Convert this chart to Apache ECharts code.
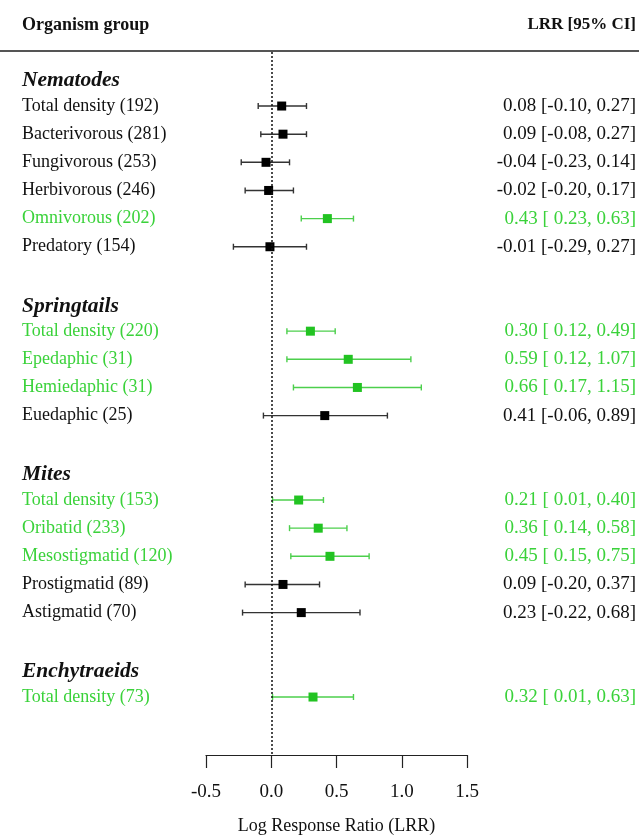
<!DOCTYPE html>
<html>
<head>
<meta charset="utf-8">
<script src="https://cdn.jsdelivr.net/npm/echarts@6/dist/echarts.min.js"></script>
<style>
  html, body { margin: 0; padding: 0; background: #fff; }
  #chart { width: 639px; height: 840px; }
</style>
</head>
<body>
<div id="chart"></div>
<script>
// Group headers and the row index at which each one sits
const groupNames = ['Nematodes', 'Springtails', 'Mites', 'Enchytraeids'];
const groupRows = [0, 8, 14, 21];

// Subgroup rows: name, sample size, row index, LRR estimate and 95% CI
const rowNames = [
  'Total density', 'Bacterivorous', 'Fungivorous', 'Herbivorous', 'Omnivorous', 'Predatory',
  'Total density', 'Epedaphic', 'Hemiedaphic', 'Euedaphic',
  'Total density', 'Oribatid', 'Mesostigmatid', 'Prostigmatid', 'Astigmatid',
  'Total density'
];
const rowN = [192, 281, 253, 246, 202, 154, 220, 31, 31, 25, 153, 233, 120, 89, 70, 73];
const rowIndex = [1, 2, 3, 4, 5, 6, 9, 10, 11, 12, 15, 16, 17, 18, 19, 22];
const lrr = [0.08, 0.09, -0.04, -0.02, 0.43, -0.01, 0.30, 0.59, 0.66, 0.41, 0.21, 0.36, 0.45, 0.09, 0.23, 0.32];
const ciLow = [-0.10, -0.08, -0.23, -0.20, 0.23, -0.29, 0.12, 0.12, 0.17, -0.06, 0.01, 0.14, 0.15, -0.20, -0.22, 0.01];
const ciHigh = [0.27, 0.27, 0.14, 0.17, 0.63, 0.27, 0.49, 1.07, 1.15, 0.89, 0.40, 0.58, 0.75, 0.37, 0.68, 0.63];

// Axis ticks
const xTicks = [-0.5, 0.0, 0.5, 1.0, 1.5];

const SERIF = '"Liberation Serif", "Times New Roman", serif';
const GREEN_TEXT = '#3ad23a';
const GREEN_MARK = '#22c322';
const GREEN_LINE = '#4ccf4c';

function fmt(v) { return v.toFixed(2); }
function fmtLow(v) { return (v >= 0 ? ' ' : '') + v.toFixed(2); }

const rowData = rowNames.map((name, i) => [lrr[i], rowIndex[i], ciLow[i], ciHigh[i], i]);
const groupData = groupNames.map((name, i) => [0, groupRows[i], i]);

const chart = echarts.init(document.getElementById('chart'), null, { renderer: 'canvas' });

chart.setOption({
  animation: false,
  backgroundColor: '#ffffff',
  grid: { left: 206, right: 172, top: 52, bottom: 85, containLabel: false },
  xAxis: {
    type: 'value',
    min: xTicks[0],
    max: xTicks[xTicks.length - 1],
    interval: 0.5,
    name: 'Log Response Ratio (LRR)',
    nameLocation: 'middle',
    nameGap: 62,
    nameTextStyle: { fontFamily: SERIF, fontSize: 18, color: '#111' },
    axisLine: { show: true, onZero: false, lineStyle: { color: '#222', width: 1.2 } },
    axisTick: { show: true, inside: false, length: 13, lineStyle: { color: '#222', width: 1.2 } },
    axisLabel: {
      margin: 28,
      fontFamily: SERIF,
      fontSize: 19,
      color: '#111',
      formatter: v => v.toFixed(1)
    },
    splitLine: { show: false }
  },
  yAxis: {
    type: 'value',
    inverse: true,
    min: -0.92,
    max: 24.06,
    show: false
  },
  graphic: [
    {
      type: 'text', left: 22, top: 16,
      style: { text: 'Organism group', font: 'bold 18px ' + SERIF, fill: '#111' }
    },
    {
      type: 'text', right: 3, top: 16,
      style: { text: 'LRR [95% CI]', font: 'bold 17px ' + SERIF, fill: '#111' }
    },
    {
      type: 'rect', left: 0, top: 50,
      shape: { width: 639, height: 2 },
      style: { fill: '#555' }
    }
  ],
  series: [
    {
      type: 'custom',
      name: 'groups',
      data: groupData,
      encode: { x: 0, y: 1 },
      renderItem: function (params, api) {
        const p = api.coord([0, api.value(1)]);
        return {
          type: 'text',
          style: {
            x: 22, y: p[1] + 3,
            text: groupNames[api.value(2)],
            font: 'italic bold 21.5px ' + SERIF,
            fill: '#111',
            textAlign: 'left',
            textVerticalAlign: 'middle'
          }
        };
      }
    },
    {
      type: 'custom',
      name: 'LRR',
      data: rowData,
      encode: { x: [0, 2, 3], y: 1 },
      renderItem: function (params, api) {
        const idx = api.value(4);
        const y = api.value(1);
        const est = api.coord([api.value(0), y]);
        const lo = api.coord([api.value(2), y]);
        const hi = api.coord([api.value(3), y]);
        const sig = ciLow[idx] > 0;
        const lineCol = sig ? GREEN_LINE : '#333';
        const markCol = sig ? GREEN_MARK : '#000';
        const textCol = sig ? GREEN_TEXT : '#111';
        const cap = 3;
        const sq = 9;
        return {
          type: 'group',
          children: [
            {
              type: 'line',
              shape: { x1: lo[0], y1: lo[1], x2: hi[0], y2: hi[1] },
              style: { stroke: lineCol, lineWidth: 1.4 }
            },
            {
              type: 'line',
              shape: { x1: lo[0], y1: lo[1] - cap, x2: lo[0], y2: lo[1] + cap },
              style: { stroke: lineCol, lineWidth: 1.4 }
            },
            {
              type: 'line',
              shape: { x1: hi[0], y1: hi[1] - cap, x2: hi[0], y2: hi[1] + cap },
              style: { stroke: lineCol, lineWidth: 1.4 }
            },
            {
              type: 'rect',
              shape: { x: est[0] - sq / 2, y: est[1] - sq / 2, width: sq, height: sq },
              style: { fill: markCol }
            },
            {
              type: 'text',
              style: {
                x: 22, y: est[1],
                text: rowNames[idx] + ' (' + rowN[idx] + ')',
                font: '18px ' + SERIF,
                fill: textCol,
                textAlign: 'left',
                textVerticalAlign: 'middle'
              }
            },
            {
              type: 'text',
              style: {
                x: 636, y: est[1],
                text: fmt(lrr[idx]) + ' [' + fmtLow(ciLow[idx]) + ', ' + fmt(ciHigh[idx]) + ']',
                font: '19px ' + SERIF,
                fill: textCol,
                textAlign: 'right',
                textVerticalAlign: 'middle'
              }
            }
          ]
        };
      },
      markLine: {
        silent: true,
        symbol: ['none', 'none'],
        label: { show: false },
        lineStyle: { color: '#111', type: [2, 2], width: 1.5 },
        data: [{ xAxis: 0 }]
      }
    }
  ]
});
</script>
</body>
</html>
